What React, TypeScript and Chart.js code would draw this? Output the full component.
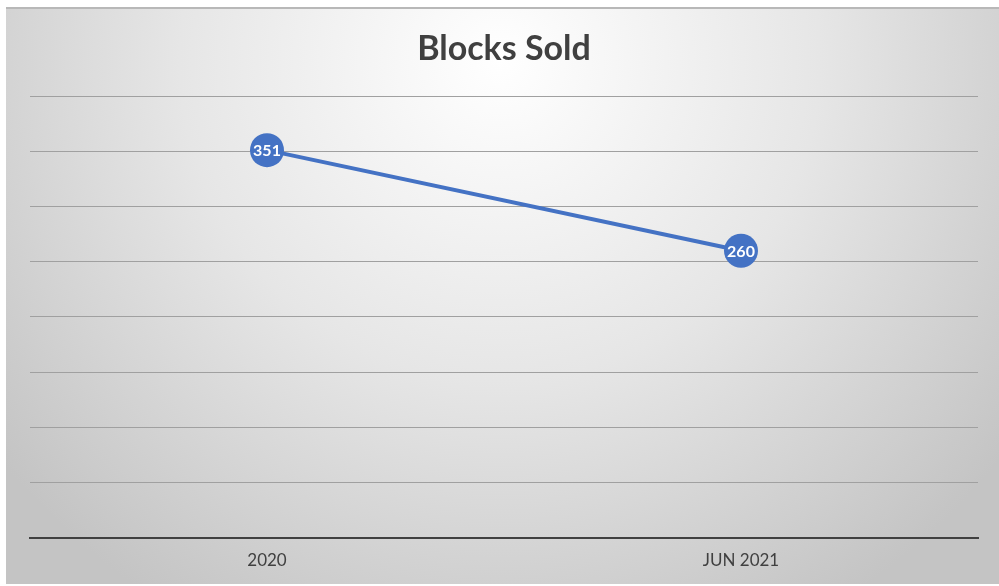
import React, { useEffect, useRef } from "react";
import { Chart, registerables } from "chart.js";

Chart.register(...registerables);

const categories = ["2020", "JUN 2021"];
const blocksSold = [351, 260];
const yTicks = [0, 50, 100, 150, 200, 250, 300, 350, 400];

const bgPlugin = {
  id: "bgPlugin",
  beforeDraw(chart: any) {
    const { ctx, width, height } = chart;
    ctx.save();
    const x0 = 6, y0 = 7, x1 = width, y1 = height - 2;
    const g = ctx.createRadialGradient(500, 60, 0, 500, 60, 640);
    g.addColorStop(0, "#ffffff");
    g.addColorStop(0.5, "#e6e6e6");
    g.addColorStop(1, "#c4c4c4");
    ctx.fillStyle = g;
    ctx.fillRect(x0, y0, x1 - x0, y1 - y0);
    ctx.fillStyle = "#b8b8b8";
    ctx.fillRect(x0, y0, x1 - x0, 2);
    ctx.restore();
  },
};

const labelPlugin = {
  id: "labelPlugin",
  afterDatasetsDraw(chart: any) {
    const { ctx } = chart;
    const meta = chart.getDatasetMeta(0);
    const data = chart.data.datasets[0].data;
    ctx.save();
    ctx.fillStyle = "#ffffff";
    ctx.font = "bold 16px Lato, 'Liberation Sans', sans-serif";
    ctx.textAlign = "center";
    ctx.textBaseline = "middle";
    meta.data.forEach((pt: any, i: number) => {
      ctx.fillText(String(data[i]), pt.x, pt.y + 1);
    });
    ctx.restore();
  },
};

export default function App() {
  const ref = useRef<HTMLCanvasElement>(null);
  useEffect(() => {
    document.body.style.margin = "0";
    const chart = new Chart(ref.current!, {
      type: "line",
      data: {
        labels: categories,
        datasets: [
          {
            data: blocksSold,
            borderColor: "#4472C4",
            backgroundColor: "#4472C4",
            borderWidth: 4,
            pointRadius: 17,
            pointHoverRadius: 17,
            pointBorderWidth: 0,
            pointBackgroundColor: "#4472C4",
            tension: 0,
          },
        ],
      },
      options: {
        animation: false,
        responsive: false,
        events: [],
        layout: { padding: { left: 30, right: 21, top: 0, bottom: 2 } },
        plugins: {
          legend: { display: false },
          tooltip: { enabled: false },
          title: {
            display: true,
            text: "Blocks Sold",
            color: "#404040",
            font: { family: "Lato, 'Liberation Sans', sans-serif", size: 34, weight: "bold", lineHeight: 1.0 },
            padding: { top: 32, bottom: 30 },
          },
        },
        scales: {
          x: {
            offset: true,
            grid: { display: false, drawTicks: false },
            border: { display: true, color: "#404040", width: 2 },
            ticks: {
              color: "#404040",
              padding: 14,
              font: { family: "Lato, 'Liberation Sans', sans-serif", size: 17, lineHeight: 1.06 },
            },
          },
          y: {
            min: 0,
            max: 400,
            afterBuildTicks(scale: any) {
              scale.ticks = yTicks.map((v) => ({ value: v }));
            },
            ticks: { display: false },
            grid: { color: "#a0a0a0", lineWidth: 1, drawTicks: false },
            border: { display: false },
          },
        },
      },
      plugins: [bgPlugin, labelPlugin],
    });
    return () => chart.destroy();
  }, []);
  return <canvas ref={ref} width={999} height={586} style={{ display: "block" }} />;
}
